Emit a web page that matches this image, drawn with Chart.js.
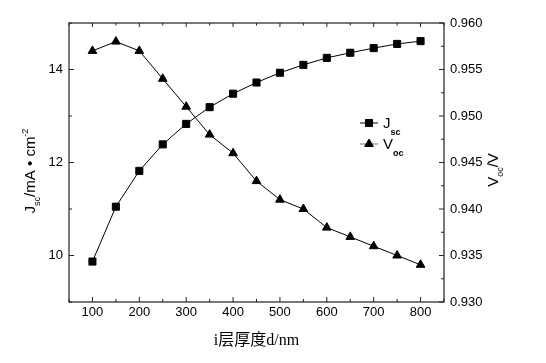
<!DOCTYPE html>
<html>
<head>
<meta charset="utf-8">
<script src="https://cdn.jsdelivr.net/npm/chart.js@4.4.0/dist/chart.umd.min.js"></script>
<style>
  html, body { margin: 0; padding: 0; background: #fff; }
</style>
</head>
<body>
<canvas id="c" width="546" height="363"></canvas>
<script>
// i-layer thickness (nm) vs Jsc (left axis) and Voc (right axis)
const THICKNESS = [100, 150, 200, 250, 300, 350, 400, 450, 500, 550, 600, 650, 700, 750, 800];
const JSC = [9.87, 11.05, 11.82, 12.39, 12.83, 13.19, 13.48, 13.72, 13.93, 14.10, 14.25, 14.36, 14.46, 14.55, 14.61];
const VOC = [0.957, 0.958, 0.957, 0.954, 0.951, 0.948, 0.946, 0.943, 0.941, 0.940, 0.938, 0.937, 0.936, 0.935, 0.934];

const X_TICKS = [100, 200, 300, 400, 500, 600, 700, 800];
const X_MINOR = [50, 150, 250, 350, 450, 550, 650, 750, 850];
const JSC_TICKS = [10, 12, 14];
const JSC_MINOR = [9, 11, 13, 15];
const VOC_TICKS = [0.930, 0.935, 0.940, 0.945, 0.950, 0.955, 0.960];
const VOC_MINOR = [0.9325, 0.9375, 0.9425, 0.9475, 0.9525, 0.9575];

const INK = '#000';
const FRAME = '#222';
const TICK_FONT = { family: '"Liberation Sans", Arial, sans-serif', size: 13 };
const SANS = '"Liberation Sans", Arial, sans-serif';

const fixTicks = list => scale => { scale.ticks = list.map(v => ({ value: v })); };

// draw a run of text pieces (main / sub / sup) starting at x, baseline y
function richWidth(ctx, parts) {
  let w = 0;
  for (const p of parts) { ctx.font = p.font; w += ctx.measureText(p.t).width; }
  return w;
}
function drawRich(ctx, parts, x, y) {
  for (const p of parts) {
    ctx.font = p.font;
    ctx.fillText(p.t, x, y + (p.dy || 0));
    x += ctx.measureText(p.t).width;
  }
}

const decor = {
  id: 'decor',
  afterDraw(chart) {
    const { ctx, chartArea: a, scales } = chart;
    const { x, y, y1 } = scales;
    ctx.save();
    ctx.strokeStyle = FRAME;
    ctx.lineWidth = 1.2;
    ctx.strokeRect(a.left, a.top, a.right - a.left, a.bottom - a.top);

    ctx.lineWidth = 1;
    ctx.beginPath();
    // x ticks, bottom and top, pointing in
    X_TICKS.forEach(v => {
      const px = x.getPixelForValue(v);
      ctx.moveTo(px, a.bottom); ctx.lineTo(px, a.bottom - 5);
      ctx.moveTo(px, a.top); ctx.lineTo(px, a.top + 4);
    });
    X_MINOR.forEach(v => {
      const px = x.getPixelForValue(v);
      ctx.moveTo(px, a.bottom); ctx.lineTo(px, a.bottom - 3);
      ctx.moveTo(px, a.top); ctx.lineTo(px, a.top + 2.5);
    });
    JSC_TICKS.forEach(v => {
      const py = y.getPixelForValue(v);
      ctx.moveTo(a.left, py); ctx.lineTo(a.left + 5, py);
    });
    JSC_MINOR.forEach(v => {
      const py = y.getPixelForValue(v);
      ctx.moveTo(a.left, py); ctx.lineTo(a.left + 3, py);
    });
    VOC_TICKS.forEach(v => {
      const py = y1.getPixelForValue(v);
      ctx.moveTo(a.right, py); ctx.lineTo(a.right - 5, py);
    });
    VOC_MINOR.forEach(v => {
      const py = y1.getPixelForValue(v);
      ctx.moveTo(a.right, py); ctx.lineTo(a.right - 3, py);
    });
    ctx.stroke();

    ctx.fillStyle = INK;
    ctx.textBaseline = 'alphabetic';
    ctx.textAlign = 'left';
    const big = '15px ' + SANS, small = '9px ' + SANS;

    // left axis title
    const leftParts = [
      { t: 'J', font: big }, { t: 'sc', font: small, dy: 5 },
      { t: '/mA \u2022 cm', font: big }, { t: '-2', font: small, dy: -7 }
    ];
    ctx.save();
    ctx.translate(35, 171);
    ctx.rotate(-Math.PI / 2);
    drawRich(ctx, leftParts, -richWidth(ctx, leftParts) / 2, 0);
    ctx.restore();

    // right axis title
    const rightParts = [
      { t: 'V', font: big }, { t: 'oc', font: small, dy: 5 }, { t: '/V', font: big }
    ];
    ctx.save();
    ctx.translate(498, 170);
    ctx.rotate(-Math.PI / 2);
    drawRich(ctx, rightParts, -richWidth(ctx, rightParts) / 2, 0);
    ctx.restore();

    // x title
    ctx.font = '16px "Liberation Serif", "Noto Sans CJK SC", serif';
    ctx.textAlign = 'center';
    ctx.fillText('i层厚度d/nm', (a.left + a.right) / 2, 345);
    ctx.textAlign = 'left';

    // legend
    const rows = [
      { ds: chart.data.datasets[0], y: 123, line: '#000', parts: [{ t: 'J', font: big }, { t: 'sc', font: 'bold ' + small, dy: 7 }] },
      { ds: chart.data.datasets[1], y: 144, line: '#777', parts: [{ t: 'V', font: big }, { t: 'oc', font: 'bold ' + small, dy: 7 }] }
    ];
    rows.forEach(r => {
      ctx.strokeStyle = r.line;
      ctx.lineWidth = 1;
      ctx.beginPath();
      ctx.moveTo(360, r.y); ctx.lineTo(378, r.y);
      ctx.stroke();
      ctx.fillStyle = INK;
      ctx.strokeStyle = INK;
      Chart.helpers.drawPoint(ctx, { pointStyle: r.ds.pointStyle, radius: r.ds.pointRadius, borderWidth: 1 }, 369, r.y);
      drawRich(ctx, r.parts, 383, r.y + 5);
    });
    ctx.restore();
  }
};

new Chart(document.getElementById('c'), {
  type: 'line',
  data: {
    datasets: [
      {
        label: 'Jsc', yAxisID: 'y',
        data: THICKNESS.map((t, i) => ({ x: t, y: JSC[i] })),
        borderColor: '#000', backgroundColor: '#000', borderWidth: 1,
        pointStyle: 'rect', pointRadius: 5, pointBorderWidth: 1
      },
      {
        label: 'Voc', yAxisID: 'y1',
        data: THICKNESS.map((t, i) => ({ x: t, y: VOC[i] })),
        borderColor: '#000', backgroundColor: '#000', borderWidth: 1,
        pointStyle: 'triangle', pointRadius: 5, pointBorderWidth: 1
      }
    ]
  },
  options: {
    responsive: false,
    animation: false,
    devicePixelRatio: 1,
    layout: { padding: { top: 23, left: 0, right: 0, bottom: 0 } },
    plugins: { legend: { display: false }, tooltip: { enabled: false } },
    scales: {
      x: {
        type: 'linear', position: 'bottom', min: 50, max: 850,
        afterBuildTicks: fixTicks(X_TICKS),
        afterFit: s => { s.height = 61; },
        grid: { display: false, drawTicks: false },
        border: { display: false },
        ticks: { font: TICK_FONT, color: INK, padding: 3, maxRotation: 0, autoSkip: false }
      },
      y: {
        type: 'linear', position: 'left', min: 9, max: 15,
        afterBuildTicks: fixTicks(JSC_TICKS),
        afterFit: s => { s.width = 69; },
        grid: { display: false, drawTicks: false },
        border: { display: false },
        ticks: { font: TICK_FONT, color: INK, padding: 6 }
      },
      y1: {
        type: 'linear', position: 'right', min: 0.93, max: 0.96,
        afterBuildTicks: fixTicks(VOC_TICKS),
        afterFit: s => { s.width = 102; },
        grid: { display: false, drawTicks: false },
        border: { display: false },
        ticks: { font: TICK_FONT, color: INK, padding: 6, callback: v => v.toFixed(3) }
      }
    }
  },
  plugins: [decor]
});
</script>
</body>
</html>
